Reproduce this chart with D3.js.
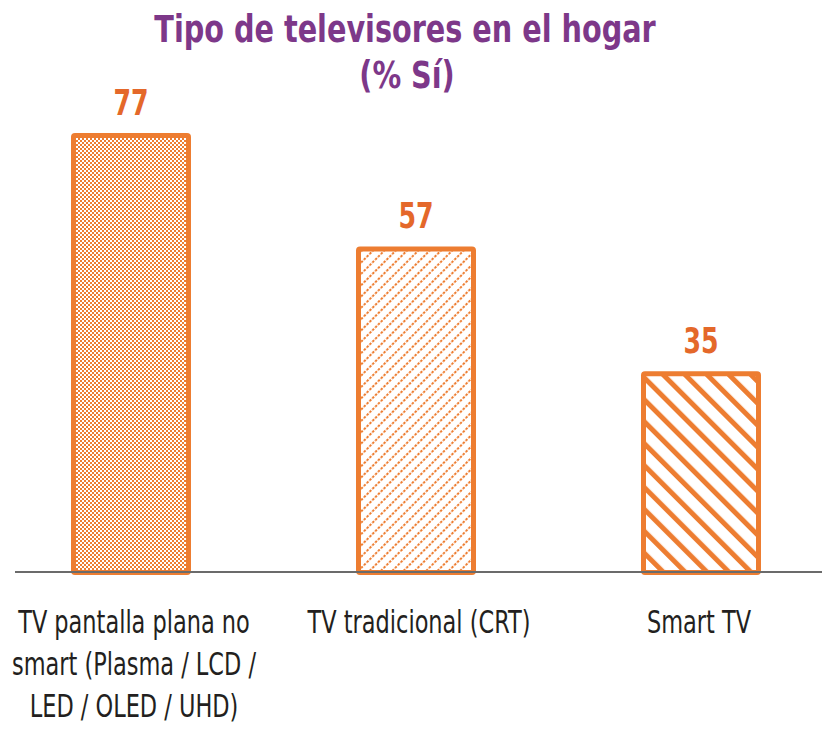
<!DOCTYPE html>
<html><head><meta charset="utf-8">
<script src="https://cdn.jsdelivr.net/npm/d3@7"></script>
<style>body{margin:0;background:#fff}</style>
</head><body>
<svg id="c" width="822" height="732"></svg>
<script>
const categories = [
  ["TV pantalla plana no", "smart (Plasma / LCD /", "LED / OLED / UHD)"],
  ["TV tradicional (CRT)"],
  ["Smart TV"]
];
const values = [77, 57, 35];
const patterns = ["checker", "dashDiag", "wideDiag"];
const titleLines = ["Tipo de televisores en el hogar", "(% Sí)"];

const svg = d3.select("#c");
const orange = "#ED7D31";
const font = "'DejaVu Sans Condensed','DejaVu Sans',sans-serif";
const defs = svg.append("defs");

// checker
const p1 = defs.append("pattern").attr("id","checker").attr("patternUnits","userSpaceOnUse").attr("width",4).attr("height",4);
p1.append("rect").attr("x",0).attr("y",0).attr("width",2).attr("height",2).attr("fill",orange);
p1.append("rect").attr("x",2).attr("y",2).attr("width",2).attr("height",2).attr("fill",orange);
// dashed thin diagonal "/"
const p2 = defs.append("pattern").attr("id","dashDiag").attr("patternUnits","userSpaceOnUse")
  .attr("width",8).attr("height",8).attr("patternTransform","rotate(45)");
p2.append("line").attr("x1",1).attr("y1",0).attr("x2",1).attr("y2",8)
  .attr("stroke",orange).attr("stroke-width",2).attr("stroke-dasharray","2.5,1.5");
// wide diagonal "\"
const p3 = defs.append("pattern").attr("id","wideDiag").attr("patternUnits","userSpaceOnUse")
  .attr("width",15.5).attr("height",15.5).attr("patternTransform","rotate(-45)");
p3.append("rect").attr("x",0).attr("y",0).attr("width",5).attr("height",15.5).attr("fill",orange);

const idx = values.map((d,i)=>i);
const x = d3.scalePoint().domain(idx).range([131, 701]);
const y = d3.scaleLinear().domain([0, 77]).range([572.5, 135.5]);
const bw = 115;

svg.selectAll("rect.bar").data(idx).join("rect").attr("class","bar")
  .attr("x", i => x(i) - bw/2).attr("width", bw)
  .attr("y", i => y(values[i])).attr("height", i => y(0) - y(values[i]))
  .attr("rx", 1.5)
  .attr("fill", i => `url(#${patterns[i]})`)
  .attr("stroke", orange).attr("stroke-width", 5);

// axis line
svg.append("line").attr("x1",15).attr("x2",822).attr("y1",572).attr("y2",572)
  .attr("stroke","#6b6b6b").attr("stroke-width",2.2);

// value labels
svg.selectAll("text.val").data(idx).join("text").attr("class","val")
  .attr("transform", i => `translate(${x(i)},${y(values[i]) - 21}) scale(0.8,1)`)
  .attr("text-anchor","middle")
  .attr("font-family",font)
  .attr("font-weight","bold").attr("font-size",35).attr("fill","#E4682A")
  .text(i => values[i]);

// category labels
const catShift = [3, 3, -2];
const cg = svg.selectAll("text.cat").data(idx).join("text").attr("class","cat")
  .attr("transform", i => `translate(${x(i) + catShift[i]},633) scale(0.78,1)`)
  .attr("text-anchor","middle")
  .attr("font-family",font)
  .attr("font-size",32).attr("fill","#231f20");
cg.selectAll("tspan").data(i => categories[i]).join("tspan")
  .attr("x", 0)
  .attr("y", (d,j) => j*42)
  .text(d => d);

// title
svg.selectAll("text.title").data(titleLines).join("text").attr("class","title")
  .attr("transform", (d,i) => `translate(${i===0 ? 405 : 407},${42 + i*46}) scale(0.862,1)`)
  .attr("text-anchor","middle")
  .attr("font-family",font)
  .attr("font-weight","bold").attr("font-size",37).attr("fill","#7D3889")
  .text(d=>d);
</script>
</body></html>
